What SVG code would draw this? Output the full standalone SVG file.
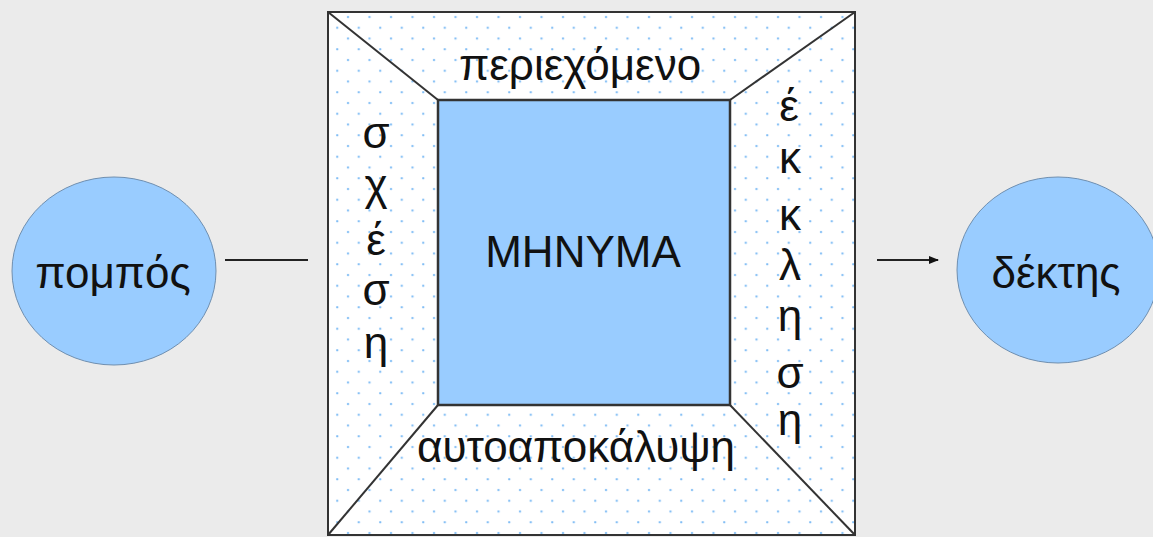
<svg xmlns="http://www.w3.org/2000/svg" width="1153" height="537" viewBox="0 0 1153 537">
<defs>
<pattern id="dots" patternUnits="userSpaceOnUse" x="343" y="98" width="21.5" height="21.5">
<rect x="0" y="0" width="21.5" height="21.5" fill="#ffffff"/>
<circle cx="5" cy="5" r="1.2" fill="#80bdf5"/>
<circle cx="15.75" cy="15.75" r="1.2" fill="#80bdf5"/>
</pattern>
<marker id="arr" viewBox="0 0 10 10" refX="9" refY="5" markerWidth="10" markerHeight="10" markerUnits="userSpaceOnUse" orient="auto">
<path d="M0,1 L10,5 L0,9 Z" fill="#111"/>
</marker>
<style>
.lbl{font-family:"Liberation Sans",Arial,sans-serif;font-size:44px;fill:#111;text-anchor:middle}
.edge{stroke:#333;stroke-width:2;fill:none}
.circ{fill:#99ccff;stroke:#6f8fb0;stroke-width:1}
.conn{stroke:#222;stroke-width:2;fill:none}
</style>
</defs>
<rect x="0" y="0" width="1153" height="537" fill="#ebebeb"/>
<g id="node-pompos">
<ellipse class="circ" cx="114" cy="271" rx="102" ry="94"/>
<text class="lbl" x="113" y="288" font-size="42">πομπός</text>
</g>
<g id="node-dektis">
<ellipse class="circ" cx="1058" cy="270" rx="101" ry="93"/>
<text class="lbl" x="1056" y="288" font-size="42">δέκτης</text>
</g>
<g id="node-minima">
<rect x="328" y="12" width="527" height="523" fill="url(#dots)" stroke="#333" stroke-width="2"/>
<line class="edge" x1="328" y1="12" x2="438" y2="100"/>
<line class="edge" x1="855" y1="12" x2="730" y2="100"/>
<line class="edge" x1="328" y1="535" x2="438" y2="405"/>
<line class="edge" x1="855" y1="535" x2="730" y2="405"/>
<rect x="438" y="100" width="292" height="305" fill="#99ccff" stroke="#333" stroke-width="2.5"/>
<text class="lbl" x="583" y="267" font-size="42">MHNYMA</text>
<text class="lbl" x="580" y="80">περιεχόμενο</text>
<text class="lbl" x="576" y="462">αυτοαποκάλυψη</text>
<g>
<text class="lbl" x="376" y="148">σ</text>
<text class="lbl" x="376" y="200">χ</text>
<text class="lbl" x="376" y="255">έ</text>
<text class="lbl" x="376" y="305">σ</text>
<text class="lbl" x="376" y="358">η</text>
</g>
<g>
<text class="lbl" x="789" y="121">έ</text>
<text class="lbl" x="790" y="173">κ</text>
<text class="lbl" x="790" y="230">κ</text>
<text class="lbl" x="790" y="280">λ</text>
<text class="lbl" x="790" y="331">η</text>
<text class="lbl" x="790" y="388">σ</text>
<text class="lbl" x="790" y="435">η</text>
</g>
</g>
<g id="connectors">
<line class="conn" x1="225" y1="260" x2="308" y2="260"/>
<line class="conn" x1="877" y1="260" x2="938" y2="260" marker-end="url(#arr)"/>
</g>
</svg>
